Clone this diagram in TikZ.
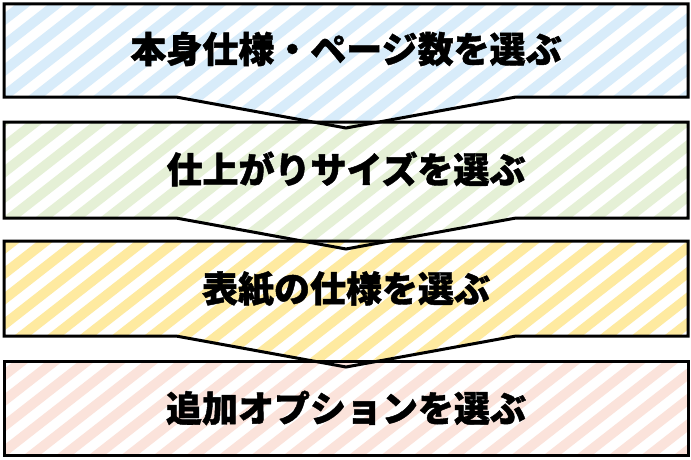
\documentclass[tikz,border=0pt]{standalone}
\usepackage{fontspec}
\newfontfamily\jpfont{Noto Sans CJK JP}[BoldFeatures={FakeBold=1.2}]
\definecolor{cblue}{HTML}{D8ECFA}
\definecolor{cgreen}{HTML}{E5F0D6}
\definecolor{cyellow}{HTML}{FEEAA0}
\definecolor{cpink}{HTML}{FBE3DB}
\newcommand\boxshape[2]{(4,#1) -- (688,#1) -- (688,#2) -- (516,#2) -- (346,{#2+31}) -- (176,#2) -- (4,#2) -- cycle}
\newcommand\lastshape[2]{(4,#1) rectangle (688,#2)}
\newcommand\stripes[1]{%
  \fill[white] (-10,-10) rectangle (700,470);
  \foreach \k in {-20,...,22} {
    \draw[#1, line width=10pt] ({\k*32.5},480) -- ({\k*32.5+640},{480-640*0.7813});
  }}
\tikzset{
  outline/.style={draw=black, line width=3pt, line join=miter},
  label/.style={font=\jpfont\bfseries\fontsize{36}{38}\selectfont, text=black, inner sep=0pt}
}
\begin{document}
\begin{tikzpicture}[x=1pt,y=-1pt]
\useasboundingbox (0,0) rectangle (691,460);
\begin{scope}\clip \boxshape{4}{97}; \stripes{cblue} \end{scope}
\begin{scope}\clip \boxshape{122}{218}; \stripes{cgreen} \end{scope}
\begin{scope}\clip \boxshape{241}{336}; \stripes{cyellow} \end{scope}
\begin{scope}\clip \lastshape{361}{455}; \stripes{cpink} \end{scope}
\draw[outline] \boxshape{4}{97};
\draw[outline] \boxshape{122}{218};
\draw[outline] \boxshape{241}{336};
\draw[outline] \lastshape{361}{455};
\node[label] (t1) at (346,49) {本身仕様・ページ数を選ぶ};
\node[label] (t2) at (346,169) {仕上がりサイズを選ぶ};
\node[label] (t3) at (346,289) {表紙の仕様を選ぶ};
\node[label] (t4) at (346,408) {追加オプションを選ぶ};
\end{tikzpicture}
\end{document}
